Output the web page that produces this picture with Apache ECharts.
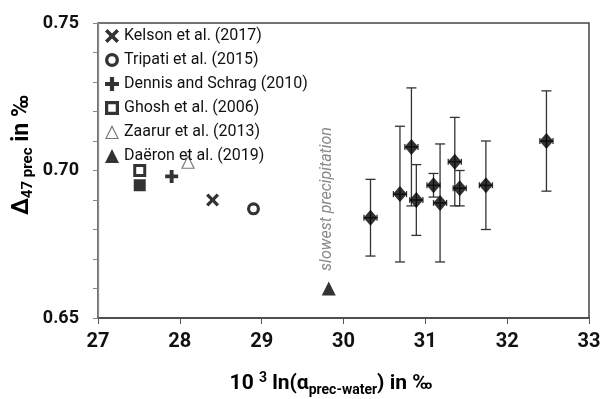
<!DOCTYPE html>
<html>
<head>
<meta charset="utf-8">
<script src="https://cdn.jsdelivr.net/npm/echarts@6/dist/echarts.min.js"></script>
<style>
  html, body { margin: 0; padding: 0; background: #fff; }
  #chart { width: 604px; height: 399px; }
</style>
</head>
<body>
<div id="chart"></div>
<script>
// this study: diamonds with error bars
const studyX = [30.33, 30.69, 30.83, 30.89, 31.10, 31.18, 31.36, 31.42, 31.74, 32.48];
const studyY = [0.684, 0.692, 0.708, 0.690, 0.695, 0.689, 0.703, 0.694, 0.695, 0.710];
const studyErr = [0.013, 0.023, 0.020, 0.012, 0.004, 0.020, 0.015, 0.006, 0.015, 0.017];
const studyXErr = 0.08;

// literature values
const kelson = [[28.4, 0.690]];
const tripati = [[28.9, 0.687]];
const dennis = [[27.9, 0.698]];
const ghosh = [[27.51, 0.700]];
const ghoshFilled = [[27.51, 0.695]];
const zaarur = [[28.1, 0.703]];
const daeron = [[29.82, 0.660]];

const xTicks = { min: 27, max: 33, interval: 1 };
const yTicks = { min: 0.65, max: 0.75, interval: 0.05 };

// marker shapes (filled outlines so legend and plot look the same)
const crossPath = 'path://M0,1.8L1.8,0L5,3.2L8.2,0L10,1.8L6.8,5L10,8.2L8.2,10L5,6.8L1.8,10L0,8.2L3.2,5Z';
const plusPath = 'path://M3.5,0H6.5V3.5H10V6.5H6.5V10H3.5V6.5H0V3.5H3.5Z';
const ringPath = 'path://M5,0A5,5,0,1,1,5,10A5,5,0,1,1,5,0ZM5,2.4A2.6,2.6,0,1,0,5,7.6A2.6,2.6,0,1,0,5,2.4Z';
const squareRing = 'path://M0,0H10V10H0ZM2.3,2.3V7.7H7.7V2.3Z';
const triRing = 'path://M5,0L10,10H0ZM5,1.9L1.3,9.3H8.7Z';

const errData = studyX.map((x, i) => [x, studyY[i], studyY[i] - studyErr[i], studyY[i] + studyErr[i], studyXErr]);
const diamondData = studyX.map((x, i) => [x, studyY[i]]);

function renderErr(params, api) {
  const x = api.value(0), y = api.value(1);
  const top = api.coord([x, api.value(3)]);
  const bot = api.coord([x, api.value(2)]);
  const l = api.coord([x - api.value(4), y]);
  const r = api.coord([x + api.value(4), y]);
  const cap = 5;
  const st = { stroke: '#333', lineWidth: 1.3 };
  const line = (x1, y1, x2, y2) => ({ type: 'line', shape: { x1, y1, x2, y2 }, style: st });
  return {
    type: 'group',
    children: [
      line(top[0], top[1], bot[0], bot[1]),
      line(top[0] - cap, top[1], top[0] + cap, top[1]),
      line(bot[0] - cap, bot[1], bot[0] + cap, bot[1]),
      line(l[0], l[1], r[0], r[1]),
      line(l[0], l[1] - 3, l[0], l[1] + 3),
      line(r[0], r[1] - 3, r[0], r[1] + 3)
    ]
  };
}

const chart = echarts.init(document.getElementById('chart'));
const font = 'Roboto, "Noto Sans", sans-serif';

chart.setOption({
  animation: false,
  backgroundColor: '#fff',
  grid: {
    left: 98, right: 15, top: 23, bottom: 81,
    show: true, borderColor: '#444', borderWidth: 1.5
  },
  legend: {
    orient: 'vertical',
    left: 105, top: 28, padding: 0,
    itemWidth: 14, itemHeight: 14, itemGap: 8,
    textStyle: { fontFamily: font, fontSize: 16, color: '#111' },
    data: ['Kelson et al. (2017)', 'Tripati et al. (2015)', 'Dennis and Schrag (2010)',
      'Ghosh et al. (2006)', 'Zaarur et al. (2013)', 'Daëron et al. (2019)']
  },
  xAxis: {
    type: 'value',
    min: xTicks.min, max: xTicks.max, interval: xTicks.interval,
    splitLine: { show: false },
    axisLine: { lineStyle: { color: '#444', width: 1.5 } },
    axisTick: { show: true, length: 6, lineStyle: { color: '#555' } },
    axisLabel: { fontFamily: font, fontWeight: 'bold', fontSize: 20, color: '#111', margin: 14 }
  },
  yAxis: {
    type: 'value',
    min: yTicks.min, max: yTicks.max, interval: yTicks.interval,
    splitLine: { show: false },
    axisLine: { show: true, lineStyle: { color: '#888', width: 1.2 } },
    axisTick: { show: true, inside: false, length: 5, lineStyle: { color: '#888' } },
    minorTick: { show: true, splitNumber: 5, length: 5, lineStyle: { color: '#888' } },
    axisLabel: {
      fontFamily: font, fontWeight: 'bold', fontSize: 18, color: '#111', margin: 19,
      formatter: v => v.toFixed(2)
    }
  },
  graphic: [
    {
      type: 'text', x: 331, y: 384,
      style: {
        text: '{b|10 }{sup|3}{b| ln(α}{sub|prec-water}{b|) in ‰}',
        align: 'center', verticalAlign: 'middle',
        rich: {
          b: { fontFamily: font, fontWeight: 'bold', fontSize: 21, lineHeight: 26, color: '#111' },
          sup: { fontFamily: font, fontWeight: 'bold', fontSize: 14, lineHeight: 14, color: '#111', verticalAlign: 'top' },
          sub: { fontFamily: font, fontWeight: 'bold', fontSize: 14, lineHeight: 14, color: '#111', verticalAlign: 'bottom' }
        }
      }
    },
    {
      type: 'text', x: 22, y: 155, rotation: Math.PI / 2,
      style: {
        text: '{b|Δ}{sub|47 prec}{b| in ‰}',
        align: 'center', verticalAlign: 'middle',
        rich: {
          b: { fontFamily: font, fontWeight: 'bold', fontSize: 23, lineHeight: 28, color: '#111' },
          sub: { fontFamily: font, fontWeight: 'bold', fontSize: 15, lineHeight: 15, color: '#111', verticalAlign: 'bottom' }
        }
      }
    },
    {
      type: 'text', x: 327, y: 199, rotation: Math.PI / 2,
      style: {
        text: 'slowest precipitation',
        align: 'center', verticalAlign: 'middle',
        fontFamily: font, fontStyle: 'italic', fontSize: 16, fill: '#888'
      }
    }
  ],
  series: [
    {
      name: 'Kelson et al. (2017)', type: 'scatter', data: kelson,
      symbol: crossPath, symbolSize: 13, itemStyle: { color: '#000' }
    },
    {
      name: 'Tripati et al. (2015)', type: 'scatter', data: tripati,
      symbol: ringPath, symbolSize: 13, itemStyle: { color: '#000' }
    },
    {
      name: 'Dennis and Schrag (2010)', type: 'scatter', data: dennis,
      symbol: plusPath, symbolSize: 13, itemStyle: { color: '#000' }
    },
    {
      name: 'Ghosh et al. (2006)', type: 'scatter', data: ghosh,
      symbol: squareRing, symbolSize: 13, itemStyle: { color: '#000' }, z: 3
    },
    {
      name: 'ghosh-filled', type: 'scatter', data: ghoshFilled,
      symbol: 'rect', symbolSize: 12, itemStyle: { color: '#000' }, z: 1
    },
    {
      name: 'Zaarur et al. (2013)', type: 'scatter', data: zaarur,
      symbol: triRing, symbolSize: 14, itemStyle: { color: '#555' }
    },
    {
      name: 'Daëron et al. (2019)', type: 'scatter', data: daeron,
      symbol: 'triangle', symbolSize: 14, itemStyle: { color: '#000' }
    },
    {
      name: 'err', type: 'custom', data: errData, renderItem: renderErr, z: 2
    },
    {
      name: 'this study', type: 'scatter', data: diamondData,
      symbol: 'diamond', symbolSize: [14, 16], itemStyle: { color: '#000' }, z: 3
    }
  ]
});
</script>
</body>
</html>
